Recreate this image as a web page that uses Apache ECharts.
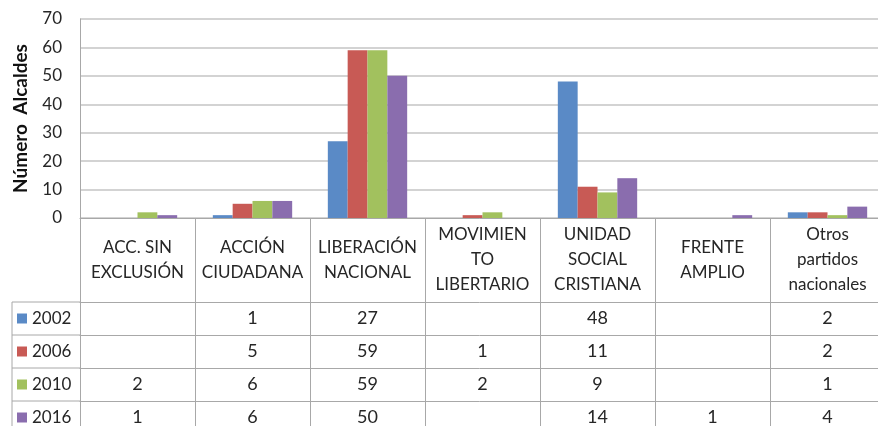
<!DOCTYPE html>
<html lang="es">
<head>
    <meta charset="UTF-8">
    <title>Número de Alcaldes por partido</title>
    <script src="https://cdn.jsdelivr.net/npm/echarts@6/dist/echarts.min.js"></script>
    <style>
        html, body { margin: 0; padding: 0; background: #fff; }
        #chart { width: 878px; height: 426px; }
    </style>
</head>
<body>
<div id="chart"></div>
<script>
    const categories = [
        'ACC. SIN\nEXCLUSIÓN',
        'ACCIÓN\nCIUDADANA',
        'LIBERACIÓN\nNACIONAL',
        'MOVIMIEN\nTO\nLIBERTARIO',
        'UNIDAD\nSOCIAL\nCRISTIANA',
        'FRENTE\nAMPLIO',
        'Otros\npartidos\nnacionales'
    ];
    const years = ['2002', '2006', '2010', '2016'];
    const values2002 = [null, 1, 27, null, 48, null, 2];
    const values2006 = [null, 5, 59, 1, 11, null, 2];
    const values2010 = [2, 6, 59, 2, 9, null, 1];
    const values2016 = [1, 6, 50, null, 14, 1, 4];
    const yTicks = [0, 10, 20, 30, 40, 50, 60, 70];

    const colors = ['#5A8AC6', '#C85A55', '#A2C15E', '#8A6DAE'];
    const rows = [values2002, values2006, values2010, values2016];

    const FONT = 'Lato';
    const TEXT = '#262626';
    const LINE = '#A8A8A8';
    const plotLeft = 80, plotTop = 19, plotBottom = 218;
    const headerH = 84, rowH = 33, legendLeft = 12;
    const tableTop = plotBottom + headerH;

    const chart = echarts.init(document.getElementById('chart'));

    // one extra x axis per table row, labels read from the row values
    const rowAxes = rows.map((vals, i) => ({
        type: 'category',
        data: categories,
        position: 'bottom',
        offset: headerH + i * rowH,
        axisLine: { show: true, lineStyle: { color: LINE, width: 1 } },
        axisTick: { show: true, length: rowH, lineStyle: { color: LINE, width: 1 } },
        axisLabel: {
            interval: 0,
            margin: rowH / 2,
            verticalAlign: 'middle',
            fontFamily: FONT,
            fontSize: 18,
            color: TEXT,
            formatter: (v, idx) => vals[idx] == null ? '' : String(vals[idx])
        },
        splitLine: { show: false }
    }));

    // one legend per table row so each key sits in its own cell
    const legends = years.map((y, i) => ({
        orient: 'vertical',
        left: 17,
        top: tableTop + i * rowH + 8,
        padding: 0,
        itemWidth: 10,
        itemHeight: 10,
        icon: 'rect',
        selectedMode: false,
        data: [y],
        textStyle: { fontFamily: FONT, fontSize: 17, color: TEXT }
    }));

    const option = {
        animation: false,
        color: colors,
        grid: {
            left: plotLeft,
            right: -7,
            top: plotTop,
            bottom: 426 - plotBottom,
            containLabel: false,
            outerBoundsMode: 'none'
        },
        legend: legends,
        xAxis: [{
            type: 'category',
            data: categories,
            axisLine: { show: true, lineStyle: { color: LINE, width: 1 } },
            axisTick: { show: true, length: headerH, lineStyle: { color: LINE, width: 1 } },
            axisLabel: {
                interval: 0,
                margin: headerH / 2,
                verticalAlign: 'middle',
                align: 'center',
                fontFamily: FONT,
                fontSize: 17,
                lineHeight: 25,
                color: TEXT
            }
        }].concat(rowAxes),
        yAxis: {
            type: 'value',
            min: yTicks[0],
            max: yTicks[yTicks.length - 1],
            interval: yTicks[1] - yTicks[0],
            name: 'Número  Alcaldes',
            nameLocation: 'middle',
            nameGap: 50,
            nameTextStyle: { fontFamily: FONT, fontSize: 19, fontWeight: 'bold', color: '#111' },
            axisLine: { show: true, lineStyle: { color: LINE, width: 1 } },
            axisTick: { show: false },
            axisLabel: { fontFamily: FONT, fontSize: 17, color: TEXT, margin: 18 },
            splitLine: { lineStyle: { color: '#C4C4C4', width: 1.5 } }
        },
        series: rows.map((vals, i) => ({
            name: years[i],
            type: 'bar',
            xAxisIndex: 0,
            data: vals,
            barGap: 0,
            barCategoryGap: '31%',
            itemStyle: { color: colors[i] }
        }))
    };

    chart.setOption(option);

    // cell borders of the legend column, left of the plot
    const legendLines = [{
        type: 'line',
        shape: { x1: legendLeft, y1: tableTop, x2: legendLeft, y2: 426 },
        style: { stroke: LINE, lineWidth: 1 }
    }];
    rows.forEach((r, i) => {
        legendLines.push({
            type: 'line',
            shape: { x1: legendLeft, y1: tableTop + i * rowH, x2: plotLeft, y2: tableTop + i * rowH },
            style: { stroke: LINE, lineWidth: 1 }
        });
    });
    chart.setOption({ graphic: legendLines });
</script>
</body>
</html>
